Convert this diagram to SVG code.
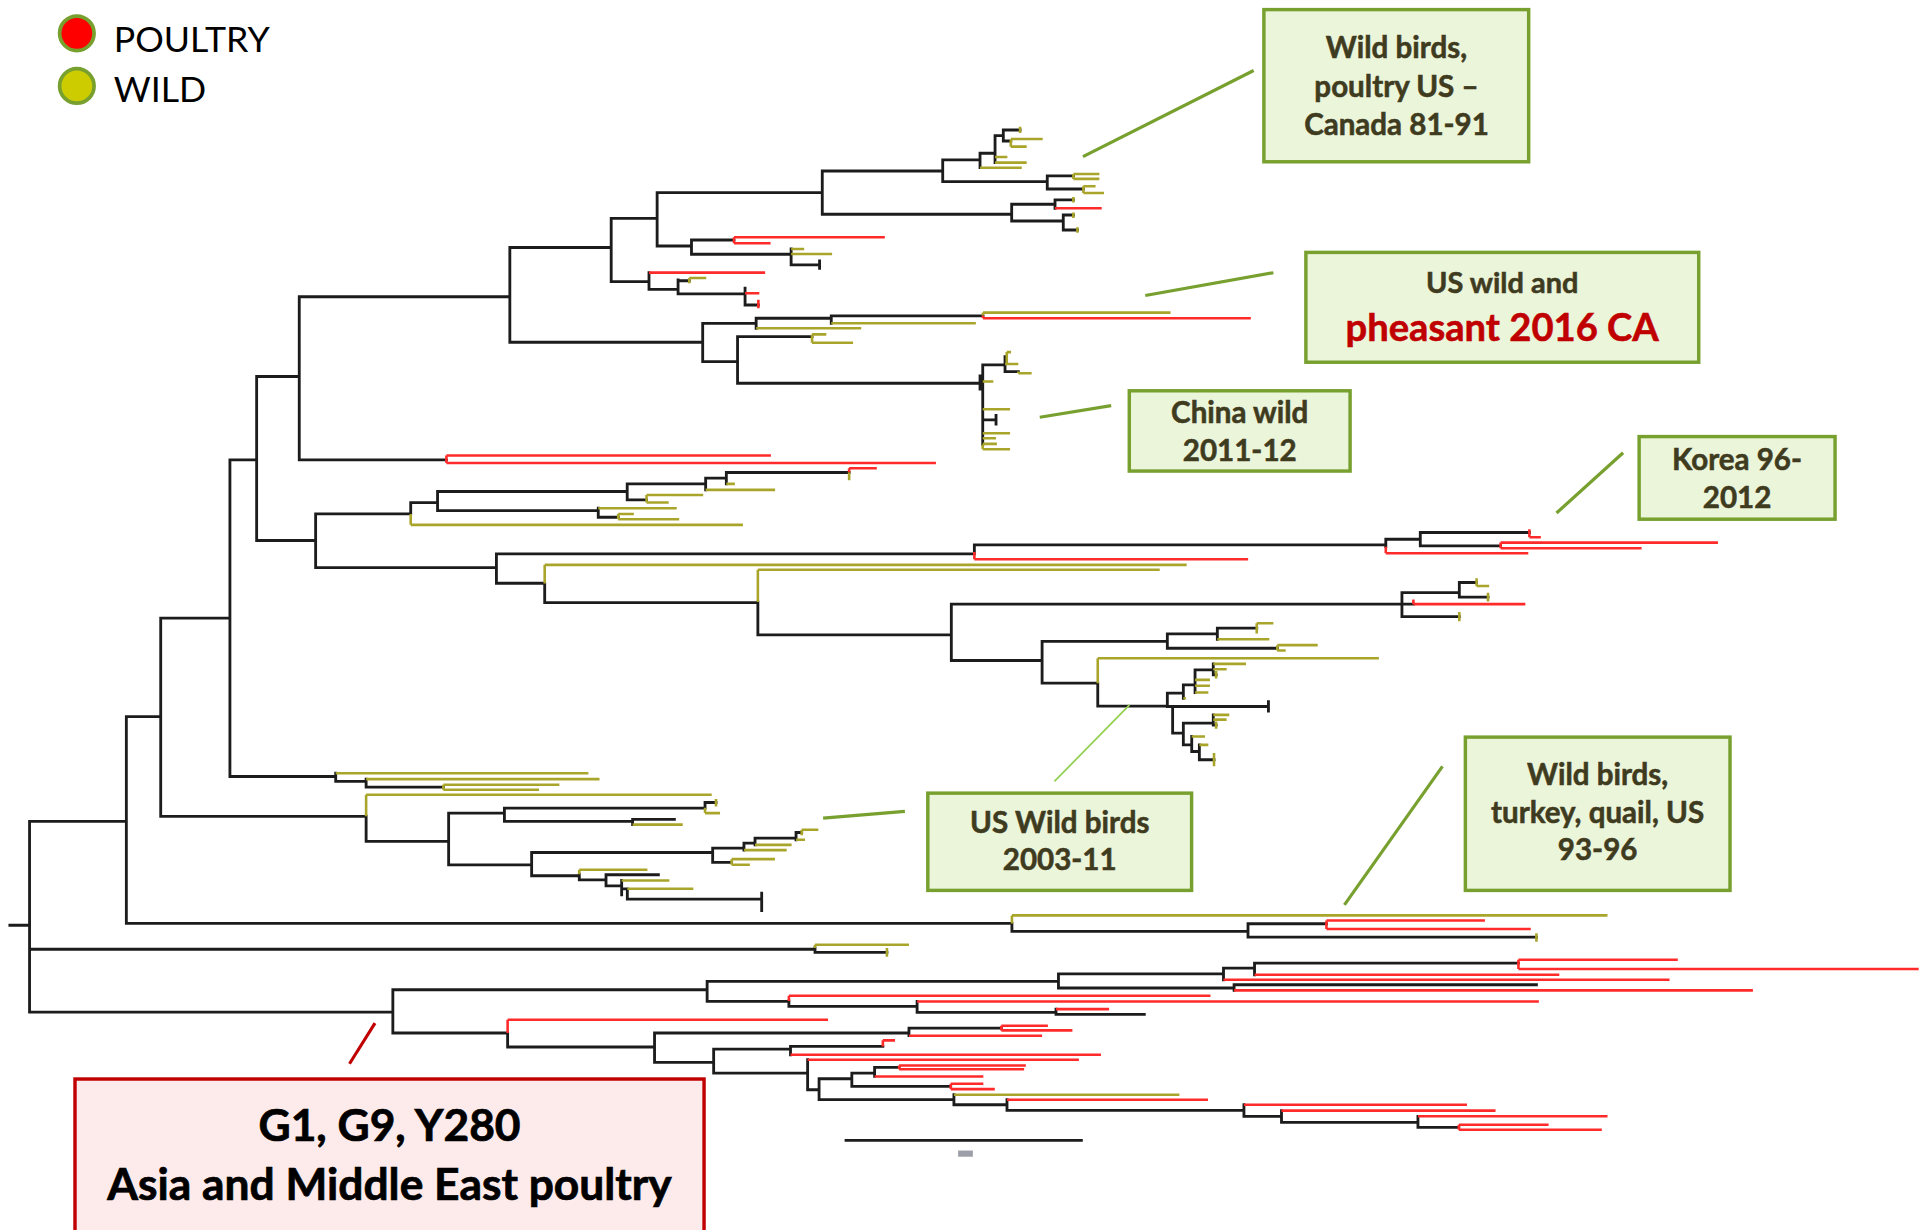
<svg xmlns="http://www.w3.org/2000/svg" width="1931" height="1230" viewBox="0 0 1931 1230">
<style>
.k{fill:none;stroke:#1c1c1c;stroke-width:2.3;stroke-linecap:square}
.r{fill:none;stroke:#ff2b2b;stroke-width:2.1}
.y{fill:none;stroke:#a9a52a;stroke-width:2.1}
.box{fill:#ebf5da;stroke:#77a02f;stroke-width:2.8}
.lead{stroke:#77a02f;stroke-width:2.6;fill:none}
.t{font-family:Lato,"Open Sans","Liberation Sans",sans-serif;font-weight:700;font-size:24px;fill:#3f3b1f;stroke:#3f3b1f;stroke-width:0.45;text-anchor:middle}
.leg{font-family:Lato,"Open Sans","Liberation Sans",sans-serif;font-size:29px;fill:#000}
</style>
<rect width="1931" height="1230" fill="#fff"/>
<g transform="scale(1.2315,1.2312)">
<g id="legend">
<circle cx="62.4" cy="27.1" r="14" fill="#ff0000" stroke="#77a02f" stroke-width="3"/>
<text class="leg" x="92.4" y="42">POULTRY</text>
<circle cx="62.4" cy="69.8" r="14" fill="#cccc00" stroke="#77a02f" stroke-width="3"/>
<text class="leg" x="92.4" y="82.6">WILD</text>
</g>
<g id="tree">
<path class="k" d="M8 751.5H24 M24 667.2V822 M24 667.2H102.6 M24 771H661.8 M24 822H319
M102.6 582V750 M102.6 582H130.5 M102.6 750H821.7
M130.5 502.1V663.1 M130.5 502.1H186.7 M130.5 663.1H297.3
M186.7 373.5V630.7 M186.7 373.5H208.4 M186.7 630.7H272.6
M208.4 305.8V439 M208.4 305.8H243 M208.4 439H256.3
M243 241V373.5 M243 241H414 M243 373.5H362.5
M414 201V278 M414 201H496.3 M414 278H570.6
M496.3 177.3V228.7 M496.3 177.3H533.6 M496.3 228.7H527
M533.6 156.4V199.8 M533.6 156.4H667.7 M533.6 199.8H561.5
M667.7 138.9V174 M667.7 138.9H765.5 M667.7 174H821.5
M765.5 129.9V147.5 M765.5 129.9H795.8 M765.5 147.5H850.4
M795.8 124.5V136.2 M795.8 124.5H808
M808 110.2V132.1 M808 110.2H814.7
M814.7 105.6V114.5 M814.7 105.6H828.3 M814.7 114.5H820.8
M850.4 142.9V153.5 M850.4 142.9H871.6 M850.4 153.5H879.7
M821.5 165.9V179.5 M821.5 165.9H856.7 M821.5 179.5H863.4
M856.7 162.4V169.2 M856.7 162.4H871.6
M863.4 174.6V186.8 M863.4 174.6H871.6 M863.4 186.8H874.9
M561.5 194.9V206.5 M561.5 194.9H596 M561.5 206.5H642.4
M642.4 202.2V215.2 M642.4 215.2H665.5 M665.5 212V218
M527 221.4V235 M527 235H550.6
M550.6 227.4V238.7 M550.6 228H559.7 M550.6 238.7H605
M605 234.1V247.7 M605 247.7H615.8
M570.6 262.6V293.7 M570.6 262.6H614 M570.6 293.7H598.9
M614 258.5V266.6 M614 258.5H675
M675 256.6V262.6 M675 256.6H798.2
M598.9 273.4V311.3 M598.9 273.4H659.4 M598.9 311.3H795.8
M795.8 305.3V316.1 M795.8 305.3H798 M798 296.4V361 M798 296.4H816.1
M816.1 289.6V301.8 M816.1 301.8H826.9 M798 341H808.8 M808.8 337.5V344.5
M256.3 417.4V461 M256.3 417.4H333.5 M256.3 461H403.1
M333.5 408.2V417.4 M333.5 408.2H355.3
M355.3 399.2V414.7 M355.3 399.2H509.3 M355.3 414.7H485.8
M509.3 393V406 M509.3 393H573 M509.3 406H525
M573 388.4V397.9 M573 388.4H589.8
M589.8 383.8V393 M589.8 383.8H689.5
M485.8 412.8V420.1 M485.8 420.1H502
M403.1 449.9V473.7 M403.1 449.9H791.2 M403.1 473.7H442.3
M791.2 442.5V448.4 M791.2 442.5H1125.3
M1125.3 438V444 M1125.3 438H1153.3
M1153.3 432.5V443.4 M1153.3 432.5H1241.9 M1153.3 443.4H1218.5
M442.3 474V489.4 M442.3 489.4H615.4
M615.4 489V515.6 M615.4 515.6H772.5
M772.5 490.7V536.5 M772.5 490.7H1138.4 M772.5 536.5H846.2
M1138.4 481.3V500.8 M1138.4 481.3H1185 M1138.4 490.7H1147.7 M1138.4 500.8H1185
M1185 473.1V485 M1185 473.1H1199 M1185 485H1208.3
M846.2 521V554.9 M846.2 521H947.9 M846.2 554.9H891.4
M947.9 514.8V526.5 M947.9 514.8H988.5 M947.9 526.5H1037.2
M988.5 510.2V519.2 M988.5 510.2H1020.5
M891.4 554.9V573.5 M891.4 573.5H947.9
M947.9 563V573.8 M947.9 563H960.9 M947.9 573.8H1030 M1030 570V577.5
M952.2 573.8V595.5 M952.2 595.5H960.9
M960.9 556.2V567.1 M960.9 556.2H970.4
M970.4 544.1V562.5 M970.4 544.1H985.2
M985.2 539.2V548.1 M985.2 548.1H987.5
M960.9 587.4V605 M960.9 587.4H985.2 M960.9 605H967.7
M985.2 580.6V589 M985.2 589H987.5
M967.7 598.2V610.4 M967.7 610.4H973.9
M973.9 605V617.1 M973.9 617.1H985.8
M297.3 663V683.4 M297.3 683.4H364.3
M364.3 660.4V702.4 M364.3 660.4H409.6 M364.3 702.4H431.7
M409.6 656.4V667.2 M409.6 656.4H572.5 M409.6 667.2H513.7
M572.5 651.8V656 M572.5 651.8H581.4
M513.7 665.5V669.8 M513.7 665.5H547.6
M431.7 692.4V711.3 M431.7 692.4H578.7 M431.7 711.3H470.4
M578.7 688.9V700.5 M578.7 688.9H604.1 M578.7 700.5H594.1
M604.1 684.8V690.5 M604.1 684.8H613.1
M613.1 680.7V686.2 M613.1 680.7H646.4
M646.4 676.2V682.1 M646.4 676.2H651
M470.4 710V714.6 M470.4 714.6H492.1
M492.1 710.5V719.5 M492.1 710.5H534.6 M492.1 719.5H504.8
M504.8 715.1V726.8 M504.8 721.9H509.4 M509.4 721.9V730.3 M509.4 730.3H618.5 M618.5 725.4V739.5
M272.6 628V634.7 M272.6 634.7H297.3
M297.3 632.8V639.3 M297.3 639.3H360
M821.7 750V756.5 M821.7 756.5H1013.4
M1013.4 750.3V761.1 M1013.4 750.3H1077.1 M1013.4 761.1H1247.6
M661.8 770V773.6 M661.8 773.6H720.2
M319 803.9V839 M319 803.9H574.2 M319 839H412.2
M574.2 797.1V813.4 M574.2 797.1H859.5 M574.2 813.4H640.6
M859.5 791V802.5 M859.5 791H993.5 M859.5 802.5H1002.1
M993.5 786.3V795.8 M993.5 786.3H1018.7
M1018.7 782.2V791.7 M1018.7 782.2H1233
M1002.1 799.8V804.4 M1002.1 799.8H1247.6
M640.6 813V817.4 M640.6 817.4H744.7
M744.7 813.4V822.3 M744.7 822.3H857.5
M857.5 819.6V823.9 M857.5 823.9H929.2
M412.2 839V850.4 M412.2 850.4H531.5
M531.5 839V862.9 M531.5 839H738.1 M531.5 862.9H579.5
M738.1 835V841.2 M738.1 835H813.1
M579.5 852.1V871.6 M579.5 852.1H641.9 M579.5 871.6H655.8
M641.9 849.9V856.7 M641.9 849.9H716.9
M655.8 860.7V885.1 M655.8 885.1H665.1
M665.1 876.2V893.2 M665.1 876.2H691.7 M665.1 893.2H774.6
M691.7 871.6V882.4 M691.7 871.6H710.2 M691.7 882.4H772
M710.2 867V874.3 M710.2 867H730.1
M774.6 889.2V897.3 M774.6 897.3H817.7
M817.7 893.2V901.9 M817.7 901.9H1010.1
M1010.1 897.3V906.7 M1010.1 906.7H1040.6
M1040.6 902.1V911.6 M1040.6 911.6H1151.4
M1151.4 906.7V915.7 M1151.4 915.7H1184.6
M687 926.2H878.1"/>
<path class="r" d="M362.5 370V376 M362.5 370H626 M362.5 376H760
M596 192.7V197.6 M596 192.7H718.5 M596 197.6H625.7
M527 221.4H621.3
M605 238.2H616.6 M615.8 243.5V250.4
M856.7 169.2H894.6
M798.2 256.2V258.5 M798.2 258.5H1015.7
M689.5 380.3V383.8 M689.5 380.3H712
M791.2 448.4V454.2 M791.2 454.2H1013.5
M1125.3 444V449.3 M1125.3 449.3H1241
M1241.9 429.8V436.3 M1241.9 436.3H1251.2
M1218.5 440.7V445.3 M1218.5 440.7H1395 M1218.5 445.3H1333
M1147.7 487V490.7 M1147.7 490.7H1238.6
M1077.1 747.6V754.6 M1077.1 747.6H1205.8 M1077.1 754.6H1243
M993.5 795.8H1355.7
M1018.7 791.7H1266.2
M1233 779.5V787.1 M1233 779.5H1362.4 M1233 787.1H1558
M1002.1 804.4H1423.4
M640.6 808.8V813 M640.6 808.8H982.9
M744.7 813.4H1249.6
M857.5 819.6H900.6
M412.2 828.2V839 M412.2 828.2H672.4
M738.1 841.2H846.2
M813.1 833.1V836.9 M813.1 833.1H850.9 M813.1 836.9H870.8
M716.9 845V850 M716.9 845H726.8
M641.9 856.7H894
M655.8 860.7H876.1
M710.2 874.3H798.5
M730.1 865.4V868.5 M730.1 865.4H833 M730.1 868.5H831.6
M772 880.2V884.6 M772 880.2H798.5 M772 884.6H807.8
M817.7 893.2H980.9
M1010.1 897.3H1191.2
M1040.6 902.1H1214.4
M1151.4 906.7H1305.3
M1184.6 913.5V917.6 M1184.6 913.5H1257.5 M1184.6 917.6H1300.7"/>
<path class="y" d="M808 132.1H833.7 M808 127.5H818 M795.8 136.2H829.7
M828.3 103V108
M820.8 112.9V119.1 M820.8 112.9H846.7 M820.8 119.1H833.7
M871.6 141.3V145.3 M871.6 141.3H892.7 M871.6 145.3H892.7
M879.7 151.3V156.8 M879.7 151.3H889.6 M879.7 156.8H896.5
M871.6 160V164.5 M871.6 172.5V177 M874.9 184.5V189
M642.4 202.2H653 M642.4 206.3H675.7
M559.7 225.8V230 M559.7 225.8H573.5
M614 266.6H699.3
M675 262.6H792.4
M798.2 253.9V256.2 M798.2 253.9H950.5
M659.4 271.6V278.4 M659.4 271.6H671 M659.4 278.4H692.7
M817.5 286V295.6 M817.5 286H821 M816.1 295.6H826.9 M826.9 301.8V303.2 M826.9 303.2H837.7 M798 309.9H806.6 M798 332.4H820.2 M798 351.9H820.2 M798 356H808.8 M798 360.5H809.5 M798 361V364.9 M798 364.9H820.2
M333.5 417.4V426.3 M333.5 426.3H603.3
M573 397.9H629.4 M589.8 393H596.7
M689.5 383.8V390
M525 402V408.2 M525 402H571 M525 408.2H543
M485.8 412.8H549.5
M502 417.5V421.8 M502 417.5H514.7 M502 421.8H551.5
M442.3 458.8V474 M442.3 458.8H963.6
M615.4 462.8V489 M615.4 462.8H941.7
M1185 497V504.5
M1199 469.6V476 M1199 476H1209.2 M1208.3 481.5V488.5
M1020.5 506.2V514.5 M1020.5 506.2H1034 M988.5 519.2H1030.7
M1037.2 524V528.4 M1037.2 524H1070 M1037.2 528.4H1044
M891.4 534.6V554.9 M891.4 534.6H1119.7
M960.9 567.1H963
M970.4 552.2H982.5 M970.4 557H982.5 M970.4 562.5H981.2
M985.2 539.2H1011.8 M985.2 543.6H996.1 M987.5 545V551
M985.2 580.6H998.2 M985.2 584.5H996 M987.5 586V592
M967.7 598.2H978.5 M973.9 605H981.2 M985.8 611.6V622.4
M297.3 645.5V663 M297.3 645.5H577.9
M581.4 649V655 M572.5 656V660.4 M572.5 660.4H584.7
M513.7 669.8H554.4
M604.1 690.5H638.8 M613.1 686.2H642.8
M651 674V678.5 M651 674H664.5 M646.4 682.1H653.7
M594.1 697.8V702.4 M594.1 697.8H629.3 M594.1 702.4H608.9
M470.4 706.4V710 M470.4 706.4H525.7
M504.8 715.1H543.5 M509.4 721.9H563
M272.6 628H477.8 M297.3 632.8H486.8
M360 637.4V641.5 M360 637.4H454.2 M360 641.5H437.7
M821.7 743.5V750 M821.7 743.5H1305.3
M1247.6 758V765
M661.8 767.3V770 M661.8 767.3H738.1 M720.2 770V777
M774.6 889.2H957.7"/>
<rect x="778" y="934.5" width="12" height="5" fill="#4a5060" opacity="0.55"/>
</g>
<g id="connectors">
<path class="lead" d="M879.4 127.2L1018 57.3"/>
<path class="lead" d="M930 240L1034 221.5"/>
<path class="lead" d="M844.3 338.9L902.3 329.4"/>
<path class="lead" d="M1263.9 416.7L1318 367.7"/>
<path class="lead" d="M668.4 664.5L734.8 659"/>
<path d="M856.2 634.7L917.2 572.5" stroke="#92d050" stroke-width="1.4" fill="none"/>
<path class="lead" d="M1091.7 734.9L1171.3 622.5"/>
<path d="M283.8 864L304.5 831" stroke="#c00000" stroke-width="2.5" fill="none"/>
</g>
<g id="box-us-canada">
<rect class="box" x="1026.3" y="7.8" width="215" height="123.6"/>
<text class="t" x="1134" y="47">Wild birds,</text>
<text class="t" x="1134" y="78.9">poultry US –</text>
<text class="t" x="1134" y="109.9">Canada 81-91</text>
</g>
<g id="box-pheasant">
<rect class="box" x="1060.4" y="205" width="319" height="89.2"/>
<text class="t" x="1219.8" y="237.7" style="font-size:23.5px">US wild and</text>
<text class="t" x="1219.8" y="276.8" style="font-size:31px;fill:#c00000;stroke:#c00000">pheasant 2016 CA</text>
</g>
<g id="box-china">
<rect class="box" x="917" y="317.4" width="179.3" height="65.2"/>
<text class="t" x="1006.7" y="343.4">China wild</text>
<text class="t" x="1006.7" y="374.2">2011-12</text>
</g>
<g id="box-korea">
<rect class="box" x="1331" y="354.6" width="159.1" height="67.1"/>
<text class="t" x="1410.5" y="381.7">Korea 96-</text>
<text class="t" x="1410.5" y="412.5">2012</text>
</g>
<g id="box-us-wild">
<rect class="box" x="753.4" y="644.2" width="214.2" height="79"/>
<text class="t" x="860.5" y="676.7">US Wild birds</text>
<text class="t" x="860.5" y="707">2003-11</text>
</g>
<g id="box-turkey">
<rect class="box" x="1189.9" y="598.7" width="214.9" height="124.5"/>
<text class="t" x="1297.3" y="637.4">Wild birds,</text>
<text class="t" x="1297.3" y="668.5">turkey, quail, US</text>
<text class="t" x="1297.3" y="698.9">93-96</text>
</g>
<g id="box-asia">
<rect x="60.9" y="876.4" width="510.8" height="140" fill="#fdeaea" stroke="#c00000" stroke-width="2.8"/>
<text class="t" x="316.3" y="927" style="font-size:36px;fill:#000;stroke:#000;stroke-width:0.6">G1, G9, Y280</text>
<text class="t" x="316.3" y="974.4" style="font-size:36px;fill:#000;stroke:#000;stroke-width:0.6">Asia and Middle East poultry</text>
</g>
</g>
</svg>
